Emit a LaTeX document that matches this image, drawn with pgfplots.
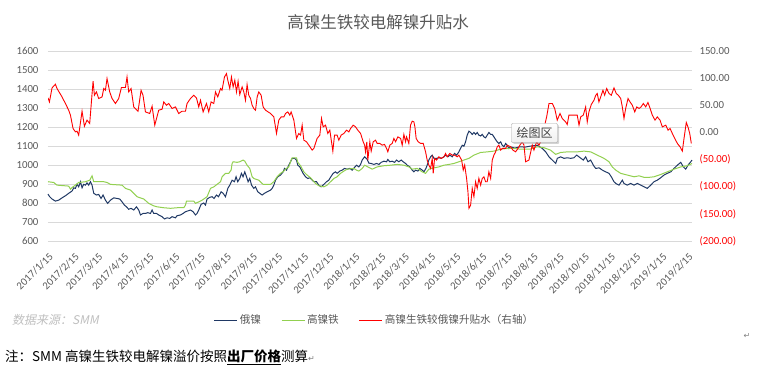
\documentclass[border=0pt]{standalone}
\usepackage{pgfplots}
\pgfplotsset{compat=1.18}
\usepackage{fontspec}
\usetikzlibrary{shadows}
\setmainfont{Carlito}
\newfontfamily\cjk{Noto Sans CJK SC}
\newfontfamily\cjkit{Noto Sans CJK SC}[FakeSlant=0.2]
\newfontfamily\djv{DejaVu Sans}
\definecolor{txtgray}{HTML}{595959}
\definecolor{gridgray}{HTML}{D9D9D9}
\definecolor{navy}{HTML}{1F3864}
\definecolor{lgreen}{HTML}{92D050}
\definecolor{srcgray}{HTML}{BFBFBF}
\begin{document}
\begin{tikzpicture}[x=1pt,y=1pt]
\path[use as bounding box] (0,0) rectangle (757,377);
% title
\node[text=txtgray, font=\cjk\fontsize{16.5}{18}\selectfont] at (378,354.5) {高镍生铁较电解镍升贴水};
\begin{axis}[
  at={(48pt,136pt)}, anchor=south west,
  width=644pt, height=190pt, scale only axis,
  xmin=0, xmax=766, ymin=600, ymax=1600,
  axis line style={draw=none}, major tick length=0pt,
  ytick={600,700,800,900,1000,1100,1200,1300,1400,1500,1600},
  yticklabels={600,700,800,900,1000,1100,1200,1300,1400,1500,1600},
  ymajorgrids, grid style={draw=gridgray, line width=0.8pt},
  yticklabel style={font=\fontsize{10.8}{12}\selectfont, text=txtgray, xshift=-6pt},
  xtick={0,31,59,90,120,151,181,212,243,273,304,334,365,396,424,455,485,516,546,577,608,638,669,699,730,761},
  xticklabels={2017/1/15,2017/2/15,2017/3/15,2017/4/15,2017/5/15,2017/6/15,2017/7/15,2017/8/15,2017/9/15,2017/10/15,2017/11/15,2017/12/15,2018/1/15,2018/2/15,2018/3/15,2018/4/15,2018/5/15,2018/6/15,2018/7/15,2018/8/15,2018/9/15,2018/10/15,2018/11/15,2018/12/15,2019/1/15,2019/2/15},
  xticklabel style={xshift=4pt, yshift=-13pt, rotate=45, anchor=east, font=\fontsize{10.8}{12}\selectfont, text=txtgray, inner sep=1pt},
  clip=false,
  legend columns=3,
  legend style={at={(0.507,-0.416)}, anchor=center, draw=none, fill=none,
    font=\cjk\fontsize{10.6}{12}\selectfont, text=txtgray,
    /tikz/every even column/.append style={column sep=18pt},
    inner sep=0pt},
  legend image code/.code={\draw[#1] (0pt,0pt) -- (23pt,0pt);},
]
\addplot[navy, line width=1pt] coordinates {
(0,847) (2,833) (4.8,821) (8.8,810) (12.7,815) (16.7,827) (20.7,838) (24.6,851) (28.6,863) (30.6,880) (32.6,877) (34.5,898) (36.5,885) (38.6,912) (40.5,880) (42.5,898) (44.5,894) (46.4,906) (48.4,894) (50.5,912) (52.4,894) (54.4,851) (57.6,842) (60.3,845) (63.1,824) (65.5,842) (68.3,815) (71,798) (74.3,815) (78.2,827) (82.1,824) (85.3,821) (88.1,806) (90.9,789) (93.3,780) (96,767) (98.8,772) (102,763) (105.2,780) (107.9,763) (110,737) (113,745) (115.9,745) (118.6,749) (121.9,745) (123.8,763) (125.8,745) (129,745) (131.7,737) (135.7,728) (138.5,716) (141.6,722) (144.8,719) (147.6,728) (151.6,722) (153.5,733) (157.6,737) (160.7,745) (163.5,754) (166.2,758) (169.5,763) (172.6,754) (175.4,737) (177.3,745) (179.3,763) (182.1,793) (185.3,800) (187.3,789) (189.2,821) (192.4,830) (195.2,833) (197.5,824) (200.4,842) (202.8,833) (205.9,859) (208.3,851) (211.1,833) (213.9,877) (216.2,894) (219,920) (221.8,912) (223.7,938) (225.7,912) (228.1,929) (230.1,956) (232,938) (234.1,964) (236.1,938) (238,912) (240,929) (242.1,894) (244.8,877) (246.8,885) (249.5,859) (251.9,851) (254.7,842) (257.5,851) (260.6,859) (264.7,868) (266.6,877) (268.6,894) (270.6,920) (273.3,938) (276.6,947) (279.7,964) (281.3,982) (283.7,973) (286.4,999) (288.5,1017) (290.4,1035) (293.2,1035) (295.6,1026) (297.1,999) (299.5,990) (301.5,973) (303.4,956) (306.3,938) (309,929) (311.4,933) (314.2,920) (316.2,912) (319.4,912) (322.1,894) (324.9,885) (328.1,898) (331.3,912) (334,920) (336.4,938) (339.2,956) (342,964) (343.9,956) (347.1,968) (349.9,973) (352.7,982) (355.8,978) (359,982) (361.8,973) (364.1,985) (367,999) (369.7,990) (371.8,1003) (373.7,1026) (376.6,1043) (379.6,1030) (381.6,1010) (384.4,1008) (387.6,1003) (390.8,1008) (393.6,1003) (396.3,1014) (399.6,1020) (402.7,1017) (404.2,1029) (406.6,1017) (409.4,1020) (412.2,1014) (414.6,1026) (417.3,1017) (420.1,1026) (422.5,1017) (425.3,1008) (427.2,999) (430.4,990) (433.2,973) (435.2,964) (437.2,973) (440,968) (442.3,982) (445.1,973) (447.1,964) (449.5,982) (451,999) (453,1026) (455.1,1043) (457,1052) (459,1035) (462.2,1035) (464.9,1038) (467.7,1035) (470.9,1043) (472.9,1052) (475.7,1043) (478,1052) (480.8,1043) (483.6,1061) (486,1052) (488.7,1069) (490.7,1087) (492.7,1104) (494.7,1099) (496.7,1122) (498.6,1157) (500.7,1178) (502.7,1171) (504.6,1161) (506.6,1171) (508.6,1161) (510.5,1171) (512.5,1157) (514.6,1153) (516.5,1161) (518.5,1148) (520.5,1143) (522.4,1157) (524.4,1171) (526.5,1161) (528.4,1161) (530.4,1148) (532.4,1134) (534.3,1122) (536.3,1113) (538.4,1122) (540.3,1104) (542.3,1096) (544.3,1113) (546.2,1104) (548.2,1087) (549.8,1096) (555.3,1089) (561.3,1096) (567.3,1094) (573.3,1099) (581.9,1104) (587.9,1087) (592,1069) (595.9,1043) (599.8,1026) (603.9,1008) (605.8,1035) (609.8,1043) (613.7,1035) (617.6,1038) (621.7,1035) (625.6,1038) (628.8,1052) (631.6,1043) (634,1035) (636.7,1026) (639.5,1043) (642.3,1017) (645.5,1026) (648.6,999) (651.5,982) (655.5,985) (659.4,973) (663.4,964) (667.3,956) (670,938) (673.2,912) (675.3,903) (679.2,894) (683.1,920) (685.1,903) (689.1,894) (693.1,903) (697.1,894) (701,903) (705,894) (709,885) (712.8,877) (716.9,894) (720.8,912) (724.7,920) (728.8,933) (732.7,947) (736.6,956) (740.7,964) (744.6,982) (748.6,999) (752.6,1014) (755.7,990) (758.5,978) (761.2,999) (764.5,1017) (766,1026)
};
\addlegendentry{俄镍}
\addplot[lgreen, line width=1pt] coordinates {
(0,912) (6.8,908) (10.7,894) (24.6,889) (26.7,873) (29.4,884) (32.6,894) (36.5,908) (44.5,912) (49.6,920) (52.4,943) (54.4,912) (66.3,912) (70.2,908) (74.3,898) (88.1,894) (92.1,877) (98.1,868) (102,851) (105.9,833) (113.9,821) (119.8,798) (125.8,785) (129.7,780) (137.7,775) (145.7,772) (153.5,775) (161.5,775) (163.5,789) (164.7,810) (173.4,810) (175.4,798) (179.3,806) (183.3,815) (189.2,833) (193.3,877) (197.2,885) (201.1,898) (205.2,912) (207.1,938) (211.1,956) (215,956) (217.8,973) (219,1008) (220.2,1017) (224.9,1014) (228.1,1017) (232,1026) (234.1,1020) (236.8,999) (240,982) (242.8,938) (244.8,929) (250.7,920) (253.5,908) (255.9,898) (264.7,898) (268.6,912) (272.5,938) (276.6,956) (280.5,968) (283.7,982) (286.4,990) (289.2,1026) (290.4,1038) (295.6,1038) (297.1,1014) (300.4,996) (304.3,964) (308.2,947) (312.3,933) (318.2,903) (322.1,891) (328.1,885) (332,894) (336.1,912) (340,929) (343.9,938) (348,956) (351.9,968) (355.8,978) (363.8,982) (367,973) (369.7,968) (373.7,982) (376.6,999) (379.6,992) (385.6,978) (391.5,990) (399.5,996) (407.5,999) (415.3,1003) (423.3,999) (429.2,990) (433.2,978) (439.1,982) (445.1,964) (449.1,956) (453,978) (459,985) (464.9,990) (470.9,999) (476.9,1003) (482.8,1008) (488.7,1017) (494.7,1026) (500.7,1035) (506.6,1052) (514.6,1066) (522.4,1069) (530.4,1073) (538.4,1083) (546.2,1087) (554.2,1087) (562.2,1083) (573.3,1083) (581.9,1096) (589.9,1091) (597.8,1078) (603.8,1056) (609.8,1066) (617.6,1069) (629.5,1069) (637.5,1073) (645.5,1069) (653.3,1052) (661.3,1035) (667.3,1017) (671.2,990) (675.3,973) (681.2,956) (689.1,947) (697.1,938) (703,943) (709,935) (714.9,935) (720.8,938) (728.8,950) (736.6,964) (744.6,978) (752.6,990) (760.4,996) (766,1008)
};
\addlegendentry{高镍铁}
\addlegendimage{red, line width=1pt}
\addlegendentry{高镍生铁较俄镍升贴水（右轴）}
\end{axis}
\begin{axis}[
  at={(48pt,136pt)}, anchor=south west,
  width=644pt, height=190pt, scale only axis,
  xmin=0, xmax=766, ymin=-200, ymax=150,
  axis y line*=right, hide x axis,
  axis line style={draw=none}, major tick length=0pt,
  ytick={-200,-150,-100,-50,0,50,100,150},
  yticklabels={\textcolor{red}{(200.00)},\textcolor{red}{(150.00)},\textcolor{red}{(100.00)},\textcolor{red}{(50.00)},0.00,50.00,100.00,150.00},
  yticklabel style={font=\fontsize{10.8}{12}\selectfont, text=txtgray, xshift=4pt},
]
\addplot[red, line width=0.9pt] coordinates {
(0,63.6) (1.7,56.2) (4.8,82) (8.8,88.8) (10.7,80.9) (16.7,65.4) (20.7,53.3) (24.6,41) (26.7,31.8) (29.8,7.3) (32.6,1) (34.5,2.3) (36.5,-5) (40.5,39.1) (43.3,11.5) (46.4,22.6) (49.6,16.5) (53.6,94.3) (55.2,68.5) (57.6,74.6) (60.3,62.5) (64.3,65.4) (66.3,80.9) (68.3,77.7) (70.2,99.2) (73.4,74.6) (76.2,62.5) (80.2,53.3) (84.1,62.5) (87.3,82.7) (92.1,82.7) (94,102.2) (96,74.6) (98.8,80.9) (102,47) (107.1,39.1) (110.7,77.7) (113,68.5) (115.9,37.8) (121,34.9) (123.8,48.3) (127,13.4) (131.7,41) (135.7,42.8) (137.7,56.2) (140.9,50.1) (143.6,53.3) (147.6,44.1) (151.6,47) (155.5,34.9) (159.5,39.1) (163.5,39.1) (165.4,53.3) (169.5,62.5) (173.4,68.5) (176.6,63.6) (179.3,47) (181.4,59.3) (184.5,37.8) (188.5,53.3) (191.2,37.8) (194,56.2) (197.2,53.3) (199.2,74.6) (201.9,65.4) (205.2,80.9) (207,77.7) (209.9,102.2) (212.3,108.4) (213.9,96.1) (216.2,80.9) (218.2,102.2) (220.2,83.8) (222.2,96.1) (224.2,74.6) (226.1,94.3) (228.1,69.8) (230.9,83.8) (232.9,74.6) (234.9,59.3) (236.8,88.2) (238.8,68.5) (240.9,62.5) (242.8,50.1) (244.8,44.1) (246.8,41) (248.8,65.4) (250.7,74.6) (253.5,68.5) (255.9,47) (258.7,41) (264.7,34.9) (268.6,28.6) (271.8,-1.9) (274.5,22.6) (277.3,28.6) (280.5,28.6) (282.5,34.9) (285.2,37.8) (287.6,31.8) (289.2,37.8) (292.4,22.6) (295.6,-11.1) (298.3,-1.9) (300.4,-5) (302.3,13.4) (304.3,-14.2) (307.5,-17.3) (310.2,-23.4) (314.2,-32.6) (316.2,-29.5) (320.1,-11.1) (323.3,-5) (325.3,25.7) (327.3,10.2) (330.1,13.4) (332.8,-1.9) (335.2,4.2) (337.2,-17.3) (338.8,-34.5) (340.8,-5) (343.9,-5) (345.9,-14.2) (348.7,-5) (351.9,-1.9) (355.1,4.2) (357.8,1) (359.9,7.3) (363,13.4) (365.8,10.2) (368.5,4.2) (371.8,-1.9) (374.9,-17.3) (376.6,-23.4) (377.7,-35.7) (379.2,-17.3) (380.4,-51) (382.8,-17.3) (384.4,-34.5) (386.8,-17.3) (389.6,-14.2) (391.5,-20.3) (394.7,-20.3) (397.5,-23.4) (400.3,-22.1) (402.7,-29.5) (404.2,-35.7) (406.6,-23.4) (409.4,-20.3) (411.4,-11.1) (413.4,-17.3) (416.1,-8.2) (419.4,-11.1) (421.3,-23.4) (423.3,-3.7) (425.3,-17.3) (426.5,-8.2) (429.2,-20.3) (431.2,13.4) (433.2,20.7) (435.2,19.4) (436.4,10.2) (437.9,-11.1) (440.3,-17.3) (443.2,-20.3) (446.3,-20.3) (449.1,-35.7) (451,-51) (453,-60.2) (455.1,-66.3) (457,-47.9) (458.2,-75.5) (459.8,-47.9) (462.2,-51) (464.9,-44.9) (467.7,-47.9) (470.9,-44.9) (472.9,-38.7) (474.8,-44.9) (478,-38.7) (480.8,-41.8) (483.6,-41.8) (486.7,-44.9) (488.7,-41.8) (492,-51) (493.9,-69.4) (495.6,-60.2) (497.9,-84.7) (499.5,-109.3) (500.7,-139.8) (502.7,-133.8) (504.6,-103) (506.6,-118.5) (508.6,-90.9) (510.5,-103) (512.5,-84.7) (514.6,-97) (516.5,-84.7) (518.5,-81.7) (520.5,-90.9) (522.4,-90.9) (524.4,-72.5) (526.5,-84.7) (528.4,-51) (530.4,-41.8) (532.4,-35.7) (534.3,-26.5) (536.3,-23.4) (538.4,-32.6) (540.3,-29.5) (544.3,-29.5) (546.2,-23.4) (550.3,-26.5) (553,-32.6) (556.2,-35.7) (559,-29.5) (561.3,-23.4) (564.1,-17.3) (566.1,-23.4) (568.1,-54.1) (572,-51) (576,-23.4) (578,-32.6) (581.2,-17.3) (584,-23.4) (587.9,-11.1) (590.8,13.4) (593.1,28.6) (595.9,53.3) (599.8,53.3) (602.7,44.1) (605.7,22.6) (609,34.9) (611.7,25.7) (615.7,19.4) (617.6,14.6) (619.6,31.8) (629.5,31.8) (631.6,13.4) (633.6,28.6) (636.7,31.8) (639.5,47) (641.4,19.4) (643.4,37.8) (646.2,51.4) (649.4,59.3) (651.5,68.5) (653.3,71.7) (655.3,56.2) (657.4,65.4) (660.1,77.7) (662.1,68.5) (664.5,80.9) (667.3,71.7) (670,68.5) (673.2,82) (675.9,71.7) (678.3,68.5) (681.2,62.5) (683.1,47) (685.1,25.7) (687.1,44.1) (689.9,62.5) (692.3,56.2) (695,50.1) (697.9,37.8) (700.3,47) (703,44.1) (705.4,47) (708.1,53.3) (711,47) (713.6,55.1) (716.2,44.1) (718.8,31.8) (722,22.6) (724.7,28.6) (728,22.6) (730.7,10.2) (734.8,13.4) (737.5,4.2) (739.9,7.3) (742.6,-1.9) (745.5,-11.1) (748.6,-20.3) (751.8,-26.5) (754.5,-34.5) (756.5,-11.1) (759.2,18.3) (761.2,10.2) (763.3,-1.9) (765.2,-20.3)
};
\end{axis}
% tooltip
\node[draw=gray!70, rounded corners=1pt, top color=white, bottom color=gray!12,
  drop shadow={opacity=0.35, shadow xshift=1.5pt, shadow yshift=-1.5pt},
  minimum width=46pt, minimum height=19pt, inner sep=1pt,
  font=\cjk\fontsize{12}{13}\selectfont, text=black!75] at (534.5,244) {绘图区};
% source
\node[anchor=west, text=srcgray, font=\cjkit\fontsize{12}{13}\selectfont, inner sep=0pt] at (12,57) {数据来源：SMM};
% footnote
\node[anchor=west, text=black, font=\cjk\fontsize{13.5}{15}\selectfont, inner sep=0pt] at (5,20) {注：SMM 高镍生铁较电解镍溢价按照\textbf{\underline{出厂价格}}测算{\djv\fontsize{8}{9}\selectfont\textcolor{gray}{↵}}};
\node[text=gray, font=\djv\fontsize{8}{9}\selectfont, inner sep=0pt] at (747,41) {↵};
\end{tikzpicture}
\end{document}
